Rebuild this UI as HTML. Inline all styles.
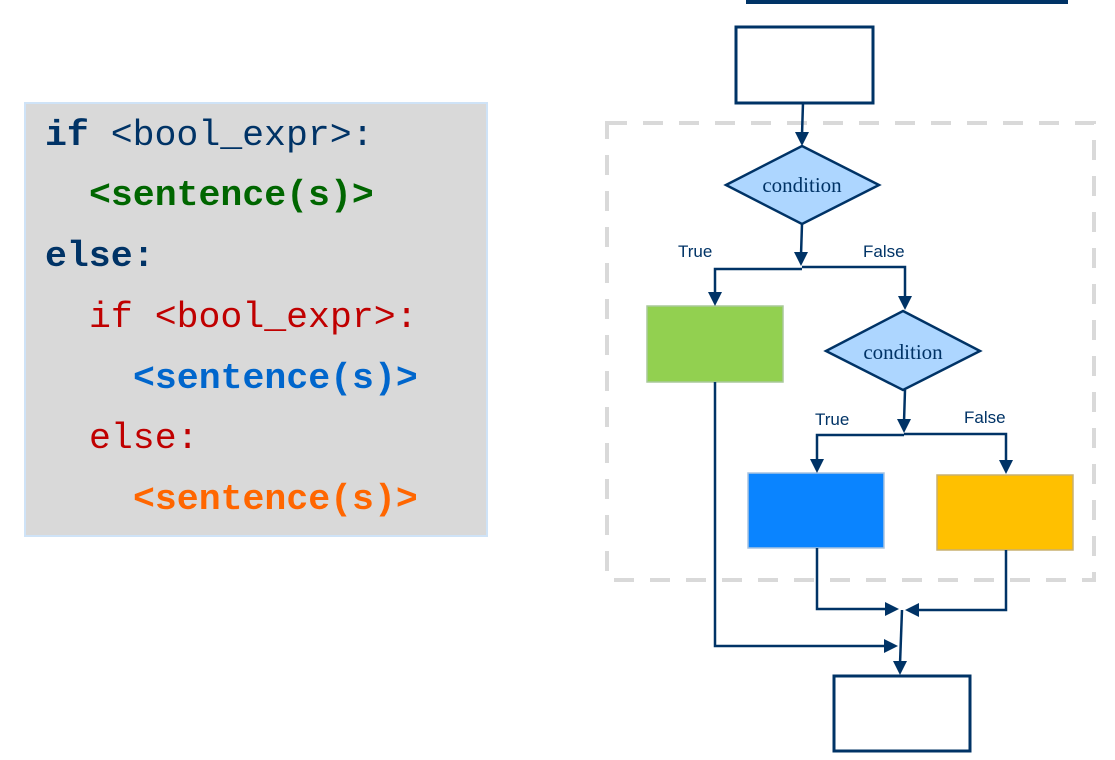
<!DOCTYPE html>
<html><head><meta charset="utf-8"><style>
html,body{margin:0;padding:0;background:#fff;width:1115px;height:760px;overflow:hidden}
svg{display:block}
.c{font-family:"Liberation Mono",monospace;font-size:36.5px}
.b{font-weight:bold}
.l{font-family:"Liberation Sans",sans-serif;font-size:17px;fill:#003366}
.d{font-family:"Liberation Serif",serif;font-size:21px;fill:#003366}
</style></head><body>
<svg width="1115" height="760" viewBox="0 0 1115 760" xmlns="http://www.w3.org/2000/svg">
<rect x="25" y="103" width="462" height="433" fill="#d9d9d9" stroke="#cfe3f7" stroke-width="2"/>
<g class="c" xml:space="preserve">
<text x="45" y="145" fill="#003366"><tspan class="b">if</tspan> &lt;bool_expr&gt;:</text>
<text x="89" y="205" fill="#006600" class="b">&lt;sentence(s)&gt;</text>
<text x="45" y="266" fill="#003366" class="b">else:</text>
<text x="89" y="327" fill="#c00000">if &lt;bool_expr&gt;:</text>
<text x="133" y="388" fill="#0066cc" class="b">&lt;sentence(s)&gt;</text>
<text x="89" y="448" fill="#c00000">else:</text>
<text x="133" y="509" fill="#ff6600" class="b">&lt;sentence(s)&gt;</text>
</g>
<rect x="746" y="0" width="322" height="4" fill="#003366"/>
<rect x="607" y="123" width="487" height="457" fill="none" stroke="#d9d9d9" stroke-width="4" stroke-dasharray="20,16"/>
<rect x="736" y="27" width="137" height="76" fill="#fff" stroke="#003366" stroke-width="3"/>
<rect x="834" y="676" width="136" height="75" fill="#fff" stroke="#003366" stroke-width="3"/>
<rect x="647" y="306" width="136" height="76" fill="#92d050" stroke="#a9c99a" stroke-width="1.5"/>
<rect x="748" y="473" width="136" height="75" fill="#0a84ff" stroke="#a9c4e0" stroke-width="1.5"/>
<rect x="937" y="475" width="136" height="75" fill="#ffc000" stroke="#c8b070" stroke-width="1.5"/>
<polygon points="802,146 879,185 802,224 726,185" fill="#add6ff" stroke="#003366" stroke-width="2.5"/>
<polygon points="903,311 980,351 903,390 826,351" fill="#add6ff" stroke="#003366" stroke-width="2.5"/>
<text class="d" x="802" y="192" text-anchor="middle">condition</text>
<text class="d" x="903" y="359" text-anchor="middle">condition</text>
<g fill="none" stroke="#003366" stroke-width="2.5" stroke-linejoin="miter">
<line x1="803" y1="103" x2="802" y2="135"/>
<line x1="802" y1="224" x2="801" y2="255"/>
<polyline points="802,269 715,269 715,295"/>
<polyline points="802,267 905,267 905,299"/>
<line x1="905" y1="390" x2="904" y2="422"/>
<polyline points="904,435 817,435 817,462"/>
<polyline points="904,434 1006,434 1006,463"/>
<polyline points="817,548 817,609 888,609"/>
<polyline points="1006,550 1006,610 916,610"/>
<polyline points="715,382 715,646 887,646"/>
<line x1="902" y1="610" x2="900" y2="664"/>
</g>
<g fill="#003366">
<polygon points="795,132 809,132 802,146"/>
<polygon points="794,252 808,252 801,266"/>
<polygon points="708,292 722,292 715,306"/>
<polygon points="898,296 912,296 905,310"/>
<polygon points="897,419 911,419 904,433"/>
<polygon points="810,459 824,459 817,473"/>
<polygon points="999,460 1013,460 1006,474"/>
<polygon points="885,602 885,616 899,609"/>
<polygon points="919,603 919,617 905,610"/>
<polygon points="884,639 884,653 898,646"/>
<polygon points="893,661 907,661 900,675"/>
</g>
<text class="l" x="678" y="257">True</text>
<text class="l" x="863" y="257">False</text>
<text class="l" x="815" y="425">True</text>
<text class="l" x="964" y="423">False</text>
</svg>
</body></html>
